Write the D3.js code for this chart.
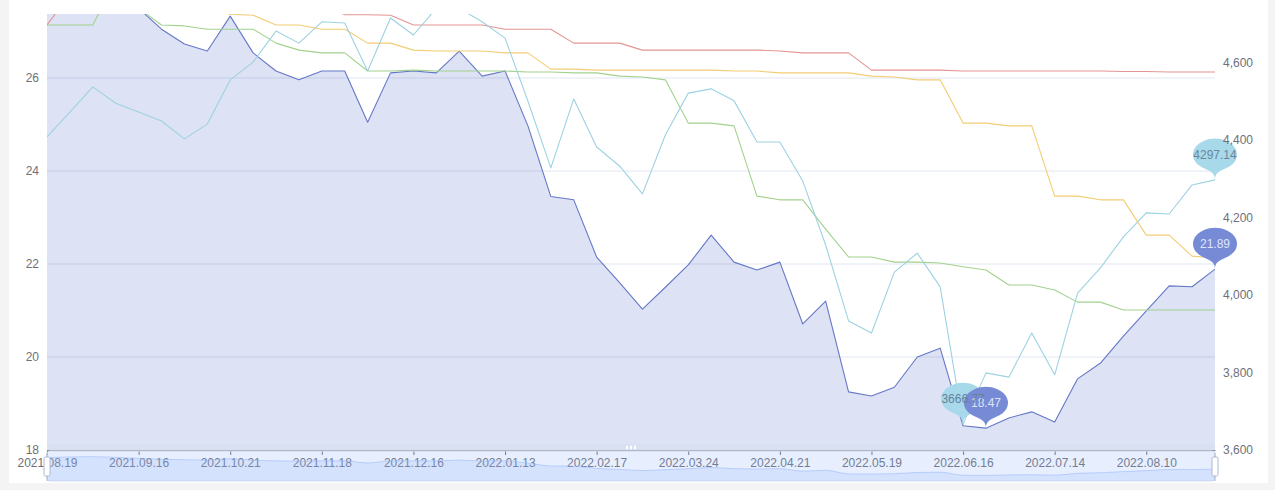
<!DOCTYPE html>
<html>
<head>
<meta charset="utf-8">
<script src="https://cdn.jsdelivr.net/npm/d3@7/dist/d3.min.js"></script>
<style>
    body { margin: 0; background: #f4f4f5; }
    svg { display: block; font-family: "Liberation Sans", Arial, sans-serif; }
</style>
</head>
<body>
<div id="chart"></div>
<script>
// weekly dates (category axis)
var dates = [
    "2021.08.19", "2021.08.26", "2021.09.02", "2021.09.09", "2021.09.16", "2021.09.23", "2021.09.30", "2021.10.14",
    "2021.10.21", "2021.10.28", "2021.11.04", "2021.11.11", "2021.11.18", "2021.11.25", "2021.12.02", "2021.12.09",
    "2021.12.16", "2021.12.23", "2021.12.30", "2022.01.06", "2022.01.13", "2022.01.20", "2022.01.27", "2022.02.10",
    "2022.02.17", "2022.02.24", "2022.03.03", "2022.03.10", "2022.03.24", "2022.03.31", "2022.04.07", "2022.04.14",
    "2022.04.21", "2022.04.28", "2022.05.06", "2022.05.12", "2022.05.19", "2022.05.26", "2022.06.02", "2022.06.09",
    "2022.06.16", "2022.06.23", "2022.06.30", "2022.07.07", "2022.07.14", "2022.07.21", "2022.07.28", "2022.08.04",
    "2022.08.10", "2022.08.17", "2022.08.24", "2022.08.31"
];

// left axis series
var peValues = [
    27.9, 28.2, 28.4, 28.0, 27.5, 27.05, 26.73, 26.58, 27.33, 26.54, 26.15, 25.96, 26.15, 26.15, 25.05, 26.11,
    26.15, 26.11, 26.58, 26.04, 26.15, 24.97, 23.45, 23.38, 22.15, 21.6, 21.03, 21.5, 21.98, 22.62, 22.04, 21.87,
    22.04, 20.71, 21.2, 19.25, 19.16, 19.35, 20.0, 20.19, 18.52, 18.47, 18.69, 18.82, 18.6, 19.53, 19.87, 20.45,
    20.99, 21.53, 21.51, 21.89
];
var greenValues = [
    27.14, 27.14, 27.14, 28.1, 27.5, 27.14, 27.12, 27.05, 27.05, 27.05, 26.75, 26.6, 26.54, 26.54, 26.15, 26.15,
    26.17, 26.15, 26.15, 26.15, 26.15, 26.13, 26.13, 26.11, 26.11, 26.04, 26.02, 25.96, 25.03, 25.03, 24.97, 23.46,
    23.38, 23.38, 22.75, 22.15, 22.15, 22.04, 22.04, 22.02, 21.94, 21.87, 21.55, 21.55, 21.44, 21.18, 21.18, 21.01,
    21.01, 21.01, 21.01, 21.01
];
var yellowValues = [
    27.8, 27.9, 28.0, 27.9, 27.8, 27.9, 27.7, 27.5, 27.37, 27.35, 27.14, 27.14, 27.05, 27.05, 26.75, 26.75,
    26.6, 26.58, 26.58, 26.58, 26.54, 26.54, 26.19, 26.19, 26.17, 26.17, 26.17, 26.17, 26.17, 26.17, 26.15, 26.15,
    26.11, 26.11, 26.11, 26.11, 26.04, 26.02, 25.96, 25.96, 25.03, 25.03, 24.97, 24.97, 23.46, 23.46, 23.38, 23.38,
    22.62, 22.62, 22.17, 22.13
];
var redValues = [
    27.14, 27.8, 28.1, 28.3, 28.2, 28.0, 28.1, 27.9, 28.0, 27.9, 27.8, 27.7, 27.6, 27.36, 27.36, 27.35,
    27.14, 27.14, 27.14, 27.14, 27.05, 27.05, 27.05, 26.75, 26.75, 26.75, 26.6, 26.6, 26.6, 26.6, 26.6, 26.6,
    26.58, 26.54, 26.54, 26.54, 26.17, 26.17, 26.17, 26.17, 26.15, 26.15, 26.15, 26.15, 26.15, 26.15, 26.15, 26.14,
    26.14, 26.13, 26.13, 26.13
];
// right axis series
var indexValues = [
    4408, 4472, 4537, 4495, 4472, 4449, 4403, 4441, 4555, 4601, 4681, 4650, 4705, 4702, 4578, 4715,
    4671, 4740, 4740, 4705, 4663, 4500, 4328, 4506, 4382, 4333, 4261, 4413, 4521, 4532, 4501, 4395,
    4395, 4294, 4129, 3933, 3902, 4059, 4108, 4021, 3666.77, 3799, 3788, 3902, 3794, 4005, 4070, 4150,
    4212, 4209, 4284, 4297.14
];

// axis ranges (the top of the chart is cut off) and visible tick labels
var leftDomain = [18, 28];
var rightDomain = [3600, 4800];
var leftTicks = [18, 20, 22, 24, 26];
var rightTicks = [3600, 3800, 4000, 4200, 4400, 4600];

var width = 1275;
var height = 490;
var plot = {left: 47, right: 1215, top: -15, bottom: 450};
var textColor = "#6e7079";

var svg = d3.select("#chart").append("svg")
    .attr("width", width)
    .attr("height", height);

// white card
svg.append("rect").attr("x", 9).attr("y", 0).attr("width", 1259).attr("height", 483).attr("fill", "#fff");

var xScale = d3.scalePoint().domain(dates).range([plot.left, plot.right]);
var yLeft = d3.scaleLinear().domain(leftDomain).range([plot.bottom, plot.top]);
var yRight = d3.scaleLinear().domain(rightDomain).range([plot.bottom, plot.top]);

// horizontal grid lines (left axis)
svg.selectAll("line.grid").data(leftTicks.slice(1)).enter()
    .append("line")
    .attr("class", "grid")
    .attr("x1", plot.left).attr("x2", plot.right)
    .attr("y1", function(d) { return yLeft(d); })
    .attr("y2", function(d) { return yLeft(d); })
    .attr("stroke", "#e0e6f1");

svg.append("clipPath").attr("id", "plotClip")
    .append("rect")
    .attr("x", plot.left).attr("y", 14)
    .attr("width", plot.right - plot.left).attr("height", plot.bottom - 14);

var plotArea = svg.append("g").attr("clip-path", "url(#plotClip)");

var area = d3.area()
    .x(function(d, i) { return xScale(dates[i]); })
    .y0(plot.bottom)
    .y1(function(d) { return yLeft(d); });

plotArea.append("path").datum(peValues)
    .attr("d", area)
    .attr("fill", "#5470c6")
    .attr("fill-opacity", 0.2);

function lineFor(scale) {
    return d3.line()
        .x(function(d, i) { return xScale(dates[i]); })
        .y(function(d) { return scale(d); });
}

var lines = [
    {values: peValues, scale: yLeft, color: "#6578c6"},
    {values: greenValues, scale: yLeft, color: "#a3d28e"},
    {values: yellowValues, scale: yLeft, color: "#f2cd72"},
    {values: redValues, scale: yLeft, color: "#e49494"},
    {values: indexValues, scale: yRight, color: "#9dd2e2"}
];
lines.forEach(function(s) {
    plotArea.append("path").datum(s.values)
        .attr("d", lineFor(s.scale))
        .attr("fill", "none")
        .attr("stroke", s.color)
        .attr("stroke-width", 1.1)
        .attr("stroke-linejoin", "round");
});

// top strip is covered in the screenshot
svg.append("rect").attr("x", 9).attr("y", 0).attr("width", 1259).attr("height", 14).attr("fill", "#fff");

// y axes
var leftAxis = svg.append("g")
    .attr("transform", `translate(${plot.left},0)`)
    .call(d3.axisLeft(yLeft).tickValues(leftTicks).tickSize(0).tickPadding(8));
var rightAxis = svg.append("g")
    .attr("transform", `translate(${plot.right},0)`)
    .call(d3.axisRight(yRight).tickValues(rightTicks).tickSize(0).tickPadding(8).tickFormat(d3.format(",")));
[leftAxis, rightAxis].forEach(function(ax) {
    ax.select(".domain").remove();
    ax.selectAll("text").attr("fill", textColor).attr("font-size", 12);
});

// x axis, a label every 4th week
var labelDates = dates.filter(function(d, i) { return i % 4 == 0; });
var xAxis = svg.append("g")
    .attr("transform", `translate(0,${plot.bottom})`)
    .call(d3.axisBottom(xScale).tickValues(labelDates).tickSize(5).tickSizeOuter(0).tickPadding(3));
xAxis.select(".domain").attr("stroke", textColor);
xAxis.selectAll("line").attr("stroke", textColor);
xAxis.selectAll("text").attr("fill", textColor).attr("font-size", 12);

// data zoom slider (overlaps the x labels in the original)
var slider = {top: 451, bottom: 481};
svg.append("rect")
    .attr("x", plot.left).attr("y", slider.top - 7)
    .attr("width", plot.right - plot.left).attr("height", 7)
    .attr("fill", "#d2dbee").attr("fill-opacity", 0.3);
[-4, 0, 4].forEach(function(dx) {
    svg.append("rect")
        .attr("x", (plot.left + plot.right) / 2 + dx - 1).attr("y", slider.top - 5.5)
        .attr("width", 2).attr("height", 4).attr("rx", 1)
        .attr("fill", "#fff");
});

svg.append("rect")
    .attr("x", plot.left).attr("y", slider.top)
    .attr("width", plot.right - plot.left).attr("height", slider.bottom - slider.top)
    .attr("fill", "rgb(135,175,255)").attr("fill-opacity", 0.2)
    .attr("stroke", "#d2dbee").attr("rx", 3);

var peExtent = d3.extent(peValues);
var pad = (peExtent[1] - peExtent[0]) * 0.3;
var shadowY = d3.scaleLinear().domain([peExtent[0] - pad, peExtent[1] + pad]).range([slider.bottom, slider.top]);
var shadowArea = d3.area()
    .curve(d3.curveMonotoneX)
    .x(function(d, i) { return xScale(dates[i]); })
    .y0(slider.bottom)
    .y1(function(d) { return shadowY(d); });
svg.append("path").datum(peValues)
    .attr("d", shadowArea)
    .attr("fill", "#8fb0f7").attr("fill-opacity", 0.2);
svg.append("path").datum(peValues)
    .attr("d", shadowArea.lineY1())
    .attr("fill", "none").attr("stroke", "#8fb0f7").attr("stroke-width", 0.5);

[plot.left, plot.right].forEach(function(hx) {
    var g = svg.append("g").attr("transform", `translate(${hx},${slider.top})`);
    g.append("line").attr("x1", 0).attr("x2", 0).attr("y1", 1.5).attr("y2", 6)
        .attr("stroke", "#acb8d1");
    g.append("line").attr("x1", 0).attr("x2", 0).attr("y1", 25).attr("y2", 30)
        .attr("stroke", "#acb8d1");
    g.append("rect").attr("x", -3).attr("y", 6).attr("width", 6).attr("height", 19)
        .attr("rx", 1.5).attr("fill", "#fff").attr("stroke", "#acb8d1");
});

// pin markers (min and last value)
function pinPath(r, h) {
    var dy = r * r / (h - r);
    var cy = -h + r + dy;
    var angle = Math.asin(dy / r);
    var dx = Math.cos(angle) * r;
    var tanX = Math.sin(angle);
    var tanY = Math.cos(angle);
    var cpLen = r * 0.6;
    var cpLen2 = r * 0.7;
    var p = d3.path();
    p.moveTo(-dx, cy + dy);
    p.arc(0, cy, r, Math.PI - angle, Math.PI * 2 + angle);
    p.bezierCurveTo(dx - tanX * cpLen, cy + dy + tanY * cpLen, 0, -cpLen2, 0, 0);
    p.bezierCurveTo(0, -cpLen2, -dx + tanX * cpLen, cy + dy + tanY * cpLen, -dx, cy + dy);
    p.closePath();
    return {d: p.toString(), cy: cy};
}

var pin = pinPath(15, 46);
var sx = 22 / 15;
var sy = 16 / 15;
var last = dates.length - 1;
var markers = [
    {i: d3.minIndex(indexValues), values: indexValues, scale: yRight, fill: "#a7d9ea", text: "#64829a"},
    {i: last, values: indexValues, scale: yRight, fill: "#a7d9ea", text: "#6a879c"},
    {i: d3.minIndex(peValues), values: peValues, scale: yLeft, fill: "#768ad6", text: "#dfe5f8"},
    {i: last, values: peValues, scale: yLeft, fill: "#768ad6", text: "#dfe5f8"}
];
markers.forEach(function(m) {
    svg.append("path")
        .attr("d", pin.d)
        .attr("transform", `translate(${xScale(dates[m.i])},${m.scale(m.values[m.i])}) scale(${sx},${sy})`)
        .attr("fill", m.fill);
});
markers.slice().reverse().forEach(function(m) {
    svg.append("text")
        .attr("x", xScale(dates[m.i]))
        .attr("y", m.scale(m.values[m.i]) + pin.cy * sy)
        .attr("dy", "0.35em")
        .attr("text-anchor", "middle")
        .attr("font-size", 12)
        .attr("fill", m.text)
        .text(m.values[m.i].toFixed(2));
});

// axis labels on top of the markers
rightAxis.raise();
</script>
</body>
</html>
